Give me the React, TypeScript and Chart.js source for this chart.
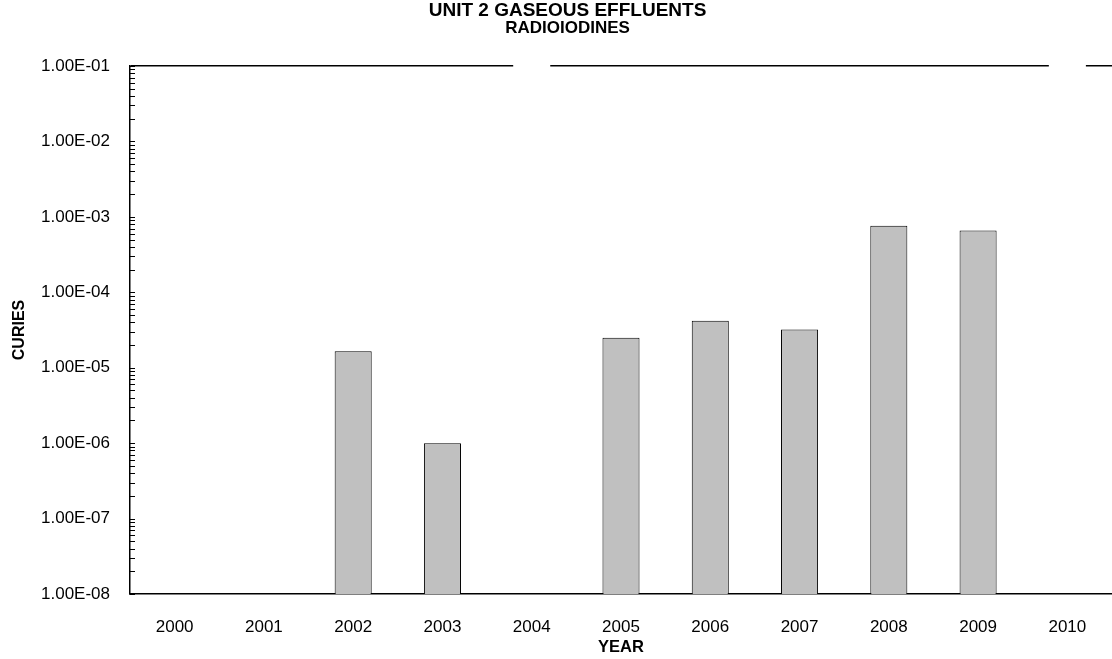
import { useEffect, useRef } from 'react';
import { Chart, registerables } from 'chart.js';

Chart.register(...registerables);

// ---- data ----
const years = ['2000', '2001', '2002', '2003', '2004', '2005', '2006', '2007', '2008', '2009', '2010'];
const curies: (number | null)[] = [null, null, 1.65e-5, 1.0e-6, null, 2.5e-5, 4.2e-5, 3.2e-5, 7.6e-4, 6.6e-4, null];
const decadeTicks = [1e-8, 1e-7, 1e-6, 1e-5, 1e-4, 1e-3, 1e-2, 1e-1];
const topGapYears = ['2004', '2010'];

const Y_MIN = 1e-8;
const Y_MAX = 1e-1;
const BAR_PCT = 0.415;
const FONT = "'Liberation Sans', Arial, sans-serif";

function sci(v: number): string {
  const [m, e] = v.toExponential(2).split('e');
  const n = parseInt(e, 10);
  const sign = n < 0 ? '-' : '+';
  return `${m}E${sign}${String(Math.abs(n)).padStart(2, '0')}`;
}

const minorTicksPlugin = {
  id: 'minorTicks',
  afterDatasetsDraw(chart: any) {
    const y = chart.scales.y;
    const left = chart.chartArea.left;
    const ctx = chart.ctx;
    ctx.save();
    ctx.strokeStyle = '#000';
    ctx.lineWidth = 1;
    for (let i = 0; i < decadeTicks.length; i++) {
      const base = decadeTicks[i];
      for (let m = 1; m <= 9; m++) {
        const v = base * m;
        if (v > Y_MAX * 1.0001) break;
        const py = Math.round(y.getPixelForValue(v)) + 0.5;
        ctx.beginPath();
        ctx.moveTo(left, py);
        ctx.lineTo(left + 5, py);
        ctx.stroke();
      }
    }
    ctx.restore();
  },
};

const topGapPlugin = {
  id: 'topGap',
  afterDatasetsDraw(chart: any) {
    const x = chart.scales.x;
    const top = chart.chartArea.top;
    const ctx = chart.ctx;
    const w = (x.width / years.length) * BAR_PCT;
    ctx.save();
    ctx.fillStyle = '#fff';
    topGapYears.forEach((yr) => {
      const idx = years.indexOf(yr);
      const px = x.getPixelForValue(idx);
      ctx.fillRect(px - w / 2, top - 3, w, 6);
    });
    ctx.restore();
  },
};

export default function App() {
  const ref = useRef<HTMLCanvasElement>(null);

  useEffect(() => {
    document.body.style.margin = '0';
    Chart.defaults.font.family = FONT;
    const canvas = ref.current!;
    const chart = new Chart(canvas, {
      type: 'bar',
      data: {
        labels: years,
        datasets: [
          {
            label: 'Curies',
            data: curies,
            backgroundColor: '#C0C0C0',
            borderColor: '#000',
            borderWidth: 1,
            barPercentage: BAR_PCT,
            categoryPercentage: 1,
          },
        ],
      },
      options: {
        responsive: false,
        animation: false,
        layout: { padding: { left: 20, right: -3, top: 0, bottom: 0 } },
        plugins: {
          legend: { display: false },
          tooltip: { enabled: false },
          title: {
            display: true,
            text: 'UNIT 2 GASEOUS EFFLUENTS',
            color: '#000',
            font: { family: FONT, size: 19, weight: 'bold', lineHeight: 1 },
            padding: { top: 1, bottom: 0 },
          },
          subtitle: {
            display: true,
            text: 'RADIOIODINES',
            color: '#000',
            font: { family: FONT, size: 17, weight: 'bold', lineHeight: 1 },
            padding: { top: 0, bottom: 29 },
          },
        },
        scales: {
          x: {
            type: 'category',
            grid: { display: false },
            border: { display: true, color: '#000', width: 1.5 },
            ticks: {
              color: '#000',
              font: { family: FONT, size: 17 },
              padding: 15,
              maxRotation: 0,
              autoSkip: false,
            },
            title: {
              display: true,
              text: 'YEAR',
              color: '#000',
              font: { family: FONT, size: 16.5, weight: 'bold' },
              padding: { top: 0, bottom: 2 },
            },
            afterFit: (s: any) => {
              s.height = 65;
            },
          },
          y: {
            type: 'logarithmic',
            min: Y_MIN,
            max: Y_MAX,
            afterBuildTicks: (s: any) => {
              s.ticks = decadeTicks.map((v) => ({ value: v, major: true }));
            },
            grid: {
              drawTicks: false,
              lineWidth: 1.5,
              color: (c: any) => (c.tick && Math.abs(c.tick.value - Y_MAX) < 1e-12 ? '#000' : 'rgba(0,0,0,0)'),
            },
            border: { display: true, color: '#000', width: 1.5 },
            ticks: {
              color: '#000',
              font: { family: FONT, size: 17 },
              padding: 20,
              autoSkip: false,
              callback: (v: any) => sci(Number(v)),
            },
            title: {
              display: true,
              text: 'CURIES',
              color: '#000',
              font: { family: FONT, size: 16, weight: 'bold' },
              padding: { top: -10, bottom: 0 },
            },
            afterFit: (s: any) => {
              s.width = 110;
            },
          },
        },
      },
      plugins: [minorTicksPlugin, topGapPlugin],
    } as any);
    return () => chart.destroy();
  }, []);

  return <canvas ref={ref} width={1112} height={659} style={{ display: 'block' }} />;
}
